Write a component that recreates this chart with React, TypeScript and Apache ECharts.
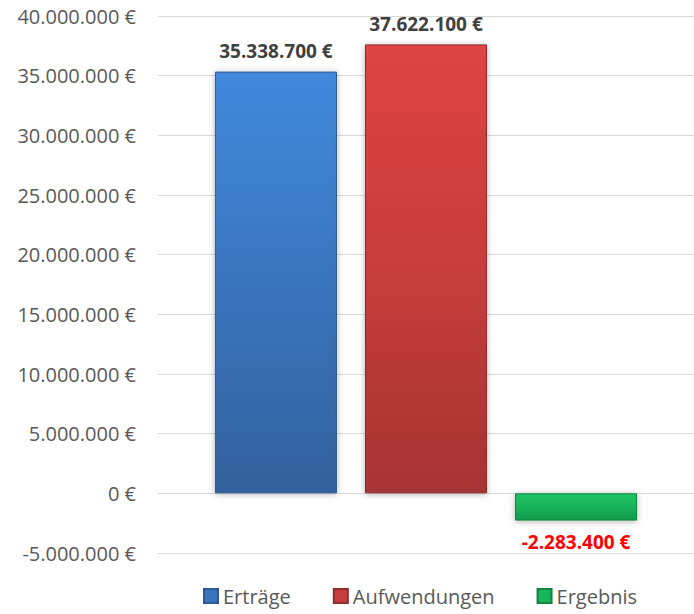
import React, { useEffect, useRef } from "react";
import * as echarts from "echarts";

const categories = [""];
const seriesNames = ["Erträge", "Aufwendungen", "Ergebnis"];
const values = [35338700, 37622100, -2283400];
const yTicks = { min: -5000000, max: 40000000, interval: 5000000 };

const FONT = "'Open Sans', 'Noto Sans', sans-serif";

function fmt(v: number): string {
  const neg = v < 0;
  const s = Math.abs(Math.round(v)).toString().replace(/\B(?=(\d{3})+(?!\d))/g, ".");
  return (neg ? "-" : "") + s + " €";
}

const gradients = [
  ["#4289dc", "#3a74bc", "#33619c"],
  ["#de4444", "#c73c3c", "#a63434"],
  ["#1ec464", "#19b35a", "#139a4c"],
];
const borders = ["#2e5a92", "#8e2c2c", "#10843f"];
const legendColors = ["#3a74bc", "#c73c3c", "#19b35a"];

export default function App() {
  const ref = useRef<HTMLDivElement>(null);
  useEffect(() => {
    if (!ref.current) return;
    const chart = echarts.init(ref.current, undefined, { renderer: "svg" });
    chart.setOption({
      animation: false,
      grid: { left: 158, right: 0, top: 16, bottom: 61, containLabel: false },
      legend: {
        bottom: 3,
        left: 198,
        itemWidth: 14,
        itemHeight: 14,
        itemGap: 42,
        icon: "rect",
        textStyle: { fontFamily: FONT, fontSize: 20, color: "#595959" },
        data: seriesNames.map((n, i) => ({ name: n, itemStyle: { color: legendColors[i] } })),
      },
      xAxis: {
        type: "category",
        data: categories,
        axisLine: { show: false },
        axisTick: { show: false },
        axisLabel: { show: false },
      },
      yAxis: {
        type: "value",
        min: yTicks.min,
        max: yTicks.max,
        interval: yTicks.interval,
        axisLine: { show: false },
        axisTick: { show: false },
        splitLine: { lineStyle: { color: "#d9d9d9", width: 1 } },
        axisLabel: {
          fontFamily: FONT,
          fontSize: 20,
          color: "#595959",
          margin: 22,
          formatter: (v: number) => fmt(v),
        },
      },
      series: seriesNames.map((name, i) => ({
        name,
        type: "bar",
        barWidth: 122,
        barGap: "23%",
        data: categories.map(() => values[i]),
        itemStyle: {
          color: new echarts.graphic.LinearGradient(0, 0, 0, 1, [
            { offset: 0, color: gradients[i][0] },
            { offset: 0.5, color: gradients[i][1] },
            { offset: 1, color: gradients[i][2] },
          ]),
          borderColor: borders[i],
          borderWidth: 1,
          shadowColor: "rgba(0,0,0,0.3)",
          shadowBlur: 6,
          shadowOffsetY: 1,
        },
        label: {
          show: true,
          position: values[i] < 0 ? "bottom" : "top",
          distance: values[i] < 0 ? 12 : 11,
          formatter: (p: any) => fmt(p.value),
          fontFamily: FONT,
          fontSize: 19,
          fontWeight: "bold",
          color: values[i] < 0 ? "#ff0000" : "#404040",
        },
      })),
    });
    return () => chart.dispose();
  }, []);
  return <div ref={ref} style={{ width: 694, height: 614, position: "absolute", left: 0, top: 0 }} />;
}
